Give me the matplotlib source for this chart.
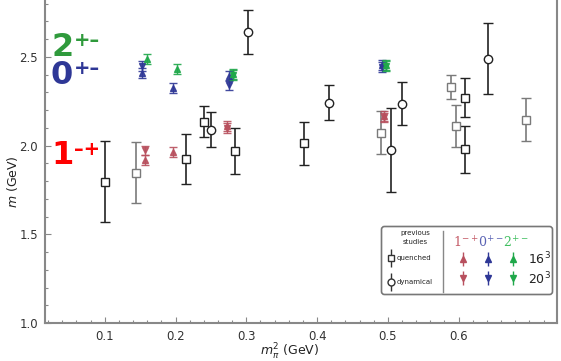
import matplotlib
matplotlib.use("Agg")
import matplotlib.pyplot as plt
from matplotlib.patches import FancyBboxPatch
import numpy as np

plt.rcParams['font.family'] = ['DejaVu Sans']
plt.rcParams['mathtext.fontset'] = 'dejavusans'

# ---- data ----
# quenched (previous studies)
q_x = [0.100, 0.144, 0.215, 0.240, 0.284, 0.381, 0.490, 0.589, 0.596, 0.609, 0.609, 0.695]
q_y = [1.795, 1.846, 1.925, 2.134, 1.970, 2.012, 2.072, 2.331, 2.108, 2.268, 1.978, 2.146]
q_err = [0.228, 0.172, 0.141, 0.088, 0.130, 0.121, 0.121, 0.068, 0.118, 0.110, 0.130, 0.122]
q_gray = [False, True, False, False, False, False, True, True, True, False, False, True]

# dynamical (previous studies)
d_x = [0.250, 0.302, 0.417, 0.504, 0.520, 0.641]
d_y = [2.089, 2.641, 2.241, 1.976, 2.235, 2.489]
d_err = [0.099, 0.124, 0.099, 0.236, 0.121, 0.200]

# this work, 16^3 (up triangles)
r16_x = [0.157, 0.196, 0.273, 0.494]
r16_y = [1.919, 1.966, 2.110, 2.164]
b16_x = [0.153, 0.196, 0.275, 0.492]
b16_y = [2.408, 2.324, 2.390, 2.452]
g16_x = [0.159, 0.202, 0.281, 0.498]
g16_y = [2.490, 2.430, 2.405, 2.455]
# this work, 20^3 (down triangles)
r20_x = [0.157, 0.273, 0.494]
r20_y = [1.972, 2.100, 2.158]
b20_x = [0.153, 0.275, 0.492]
b20_y = [2.446, 2.342, 2.445]
g20_x = [0.281, 0.498]
g20_y = [2.395, 2.450]
tri_err = 0.028

x_ticks = [0.1, 0.2, 0.3, 0.4, 0.5, 0.6]
y_ticks = [1.0, 1.5, 2.0, 2.5]

RED = '#b8505e'
BLUE = '#2e3796'
GREEN = '#1fa84a'
DARK = '#222222'
GRAY = '#7a7a7a'
SPINE = '#888888'

W, H = 561, 361
fig = plt.figure(figsize=(W / 100, H / 100), dpi=100)
ax = fig.add_axes([45 / W, (H - 323) / H, (557 - 45) / W, 323 / H])

# previous studies
for x, y, e, g in zip(q_x, q_y, q_err, q_gray):
    c = GRAY if g else DARK
    ax.errorbar([x], [y], yerr=[e], fmt='s', ms=5.5, mfc='white', mec=c, mew=1.0,
                ecolor=c, elinewidth=1.2, capsize=3.6, capthick=1.2, zorder=3)
ax.errorbar(d_x, d_y, yerr=d_err, fmt='o', ms=6, mfc='white', mec=DARK, mew=1.0,
            ecolor=DARK, elinewidth=1.2, capsize=3.6, capthick=1.2, zorder=3)

# this work
for xs, ys, col, mk in [(r16_x, r16_y, RED, '^'), (r20_x, r20_y, RED, 'v'),
                        (b16_x, b16_y, BLUE, '^'), (b20_x, b20_y, BLUE, 'v'),
                        (g16_x, g16_y, GREEN, '^'), (g20_x, g20_y, GREEN, 'v')]:
    ax.errorbar(xs, ys, yerr=tri_err, fmt=mk, ms=4.2, mfc=col, mec=col, ecolor=col,
                elinewidth=1.0, capsize=3, capthick=1.0, alpha=0.9, zorder=4)

ax.set_xlim(0.0155, 0.739)
ax.set_ylim(1.0, 2.82)
ax.set_xticks(x_ticks)
ax.set_xticklabels([f'{t:.1f}' for t in x_ticks])
ax.set_yticks(y_ticks)
ax.set_yticklabels([f'{t:.1f}' for t in y_ticks])
ax.set_xticks(np.arange(0.02, 0.74, 0.02), minor=True)
ax.set_yticks(np.arange(1.0, 2.81, 0.1), minor=True)
ax.tick_params(which='both', direction='in', colors=SPINE, labelcolor='#333333',
               labelsize=8.5, width=0.8)
ax.tick_params(which='major', length=4, pad=5)
ax.tick_params(which='minor', length=2)
for s in ['left', 'bottom', 'right']:
    ax.spines[s].set_color(SPINE)
    ax.spines[s].set_linewidth(1.5)
ax.spines['top'].set_visible(False)

fig.text(12 / W, 1 - 182 / H, '$m$ (GeV)', rotation=90, ha='center', va='center',
         fontsize=9, color='#222222')
fig.text(290 / W, 1 - 352 / H, r'$m_{\pi}^{2}$ (GeV)', ha='center', va='center',
         fontsize=9, color='#222222')

# big labels: base digit + superscript drawn as separate texts
big = [('2', '+\u2013', '#2f9a3c', 47), ('0', '+\u2013', '#2e3796', 76),
       ('1', '\u2013+', '#ff0000', 156)]
for base, sup, c, yc in big:
    fig.text(51 / W, 1 - yc / H, base, color=c, fontsize=23, fontweight='bold',
             ha='left', va='center')
    fig.text(74 / W, 1 - (yc - 7) / H, sup, color=c, fontsize=14, fontweight='bold',
             ha='left', va='center')

# legend box (pixel coordinates inside a dedicated axes)
lx0, ly0, lx1, ly1 = 380, 225, 554, 296
lax = fig.add_axes([lx0 / W, (H - ly1) / H, (lx1 - lx0) / W, (ly1 - ly0) / H])
lax.set_xlim(lx0, lx1)
lax.set_ylim(ly1, ly0)
lax.axis('off')
lax.add_patch(FancyBboxPatch((lx0 + 1.5, ly0 + 1.5), lx1 - lx0 - 3, ly1 - ly0 - 3,
                             boxstyle='round,pad=0,rounding_size=3', fc='white',
                             ec='#777777', lw=1.2, clip_on=False))
lax.text(415, 233, 'previous', fontsize=5, ha='center', va='center', color='#222222')
lax.text(415, 242, 'studies', fontsize=5, ha='center', va='center', color='#222222')
lax.errorbar([391], [258], yerr=[9], fmt='s', ms=4.5, mfc='white', mec='#333333',
             ecolor='#333333', elinewidth=1, capsize=0)
lax.text(397, 258, 'quenched', fontsize=5, ha='left', va='center', color='#222222')
lax.errorbar([391], [282], yerr=[9], fmt='o', ms=5, mfc='white', mec='#333333',
             ecolor='#333333', elinewidth=1, capsize=0)
lax.text(397, 282, 'dynamical', fontsize=5, ha='left', va='center', color='#222222')
lax.plot([443, 443], [231, 292], color='#888888', lw=1)

hdr = [(453, r'$1^{-+}$', '#c45a66'), (478, r'$0^{+-}$', '#5a63b4'),
       (503, r'$2^{+-}$', '#3fbf5f')]
for x, s, c in hdr:
    lax.text(x, 243, s, fontsize=9, math_fontfamily='dejavuserif', color=c,
             ha='left', va='center')
for x, c in [(463, RED), (488, BLUE), (513, GREEN)]:
    lax.errorbar([x], [259], yerr=[7], fmt='^', ms=4.2, mfc=c, mec=c, ecolor=c,
                 elinewidth=1, capsize=0)
    lax.errorbar([x], [278], yerr=[7], fmt='v', ms=4.2, mfc=c, mec=c, ecolor=c,
                 elinewidth=1, capsize=0)
lax.text(528, 259, r'16$^3$', fontsize=9, ha='left', va='center', color='#222222')
lax.text(528, 279, r'20$^3$', fontsize=9, ha='left', va='center', color='#222222')

fig.savefig('out.png', dpi=100)
